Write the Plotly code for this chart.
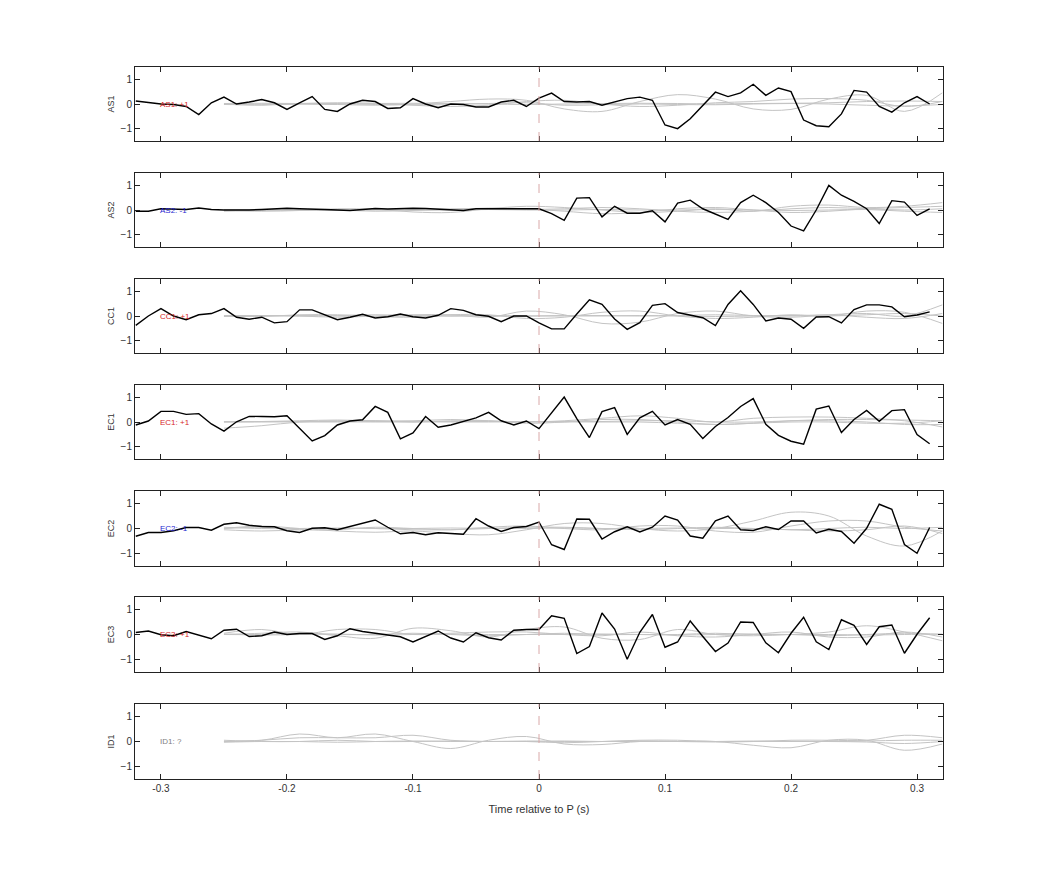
import plotly.graph_objects as go

t_black = [round(-0.32 + 0.01 * k, 2) for k in range(64)]
t_gray = [-0.25, -0.22, -0.19, -0.16, -0.13, -0.10, -0.07, -0.04, -0.01, 0.02,
          0.05, 0.08, 0.11, 0.14, 0.17, 0.20, 0.23, 0.26, 0.29, 0.32]

channels = ["AS1", "AS2", "CC1", "EC1", "EC2", "EC3", "ID1"]
labels = ["AS1: +1", "AS2: -1", "CC1: +1", "EC1: +1", "EC2: -1", "EC3: +1", "ID1: ?"]
label_colors = ["#d62728", "#1f1fd0", "#d62728", "#d62728", "#1f1fd0", "#d62728", "#808080"]

black_AS1 = [0.12, 0.05, 0.0, -0.02, -0.1, -0.43, 0.05, 0.28, 0.0, 0.08, 0.18, 0.05, -0.22, 0.05, 0.3, -0.22,
             -0.3, 0.0, 0.15, 0.1, -0.18, -0.15, 0.22, 0.0, -0.15, 0.0, -0.02, -0.12, -0.12, 0.08, 0.15, -0.1,
             0.24, 0.44, 0.1, 0.08, 0.1, -0.05, 0.1, 0.22, 0.28, 0.15, -0.85, -1.0, -0.6, -0.05, 0.48, 0.3,
             0.45, 0.8, 0.35, 0.65, 0.5, -0.65, -0.88, -0.92, -0.4, 0.55, 0.48, -0.1, -0.33, 0.05, 0.3, 0.0]
black_AS2 = [-0.05, -0.05, 0.05, 0.02, 0.02, 0.08, 0.02, 0.0, -0.01, 0.0, 0.02, 0.05, 0.07, 0.05, 0.05, 0.02,
             0.0, -0.02, 0.02, 0.06, 0.04, 0.06, 0.07, 0.06, 0.04, 0.02, -0.02, 0.05, 0.05, 0.08, 0.06, 0.05,
             0.05, -0.15, -0.42, 0.48, 0.5, -0.28, 0.15, -0.13, -0.13, -0.03, -0.48, 0.28, 0.4, 0.05, -0.15, -0.38,
             0.3, 0.6, 0.3, -0.1, -0.65, -0.85, 0.0, 1.0, 0.6, 0.35, 0.05, -0.55, 0.38, 0.32, -0.22, 0.05]
black_CC1 = [-0.38, 0.0, 0.3, 0.0, -0.15, 0.05, 0.1, 0.3, -0.05, -0.13, -0.05, -0.28, -0.23, 0.25, 0.25, 0.05,
             -0.15, -0.05, 0.07, -0.08, -0.03, 0.08, -0.03, -0.08, 0.03, 0.3, 0.23, 0.05, -0.01, -0.23, 0.0, 0.0,
             -0.28, -0.52, -0.52, 0.08, 0.66, 0.47, -0.12, -0.54, -0.27, 0.43, 0.5, 0.14, 0.04, -0.07, -0.39, 0.47,
             1.02, 0.47, -0.2, -0.08, -0.13, -0.5, -0.04, -0.03, -0.28, 0.26, 0.45, 0.45, 0.37, -0.03, 0.04, 0.17]
black_EC1 = [-0.12, 0.04, 0.43, 0.43, 0.31, 0.34, -0.08, -0.37, 0.01, 0.23, 0.22, 0.21, 0.25, -0.25, -0.77, -0.55,
             -0.12, 0.04, 0.09, 0.63, 0.39, -0.68, -0.44, 0.22, -0.21, -0.12, 0.04, 0.17, 0.39, 0.05, -0.12, 0.04,
             -0.27, 0.38, 1.01, 0.14, -0.63, 0.42, 0.58, -0.5, 0.17, 0.43, -0.12, 0.1, -0.09, -0.67, -0.18, 0.18,
             0.63, 0.95, -0.09, -0.54, -0.78, -0.9, 0.52, 0.65, -0.43, 0.1, 0.47, 0.03, 0.46, 0.5, -0.51, -0.88]
black_EC2 = [-0.31, -0.16, -0.16, -0.09, 0.04, 0.04, -0.07, 0.17, 0.23, 0.13, 0.08, 0.07, -0.09, -0.16, 0.01, 0.03,
             -0.05, 0.08, 0.22, 0.34, 0.05, -0.21, -0.16, -0.25, -0.17, -0.2, -0.23, 0.39, 0.1, -0.12, 0.04, 0.08,
             0.26, -0.65, -0.84, 0.38, 0.37, -0.42, -0.13, 0.07, -0.14, 0.05, 0.5, 0.34, -0.3, -0.39, 0.31, 0.5,
             -0.05, -0.08, 0.07, -0.04, 0.3, 0.3, -0.18, -0.03, -0.12, -0.59, 0.01, 0.97, 0.77, -0.64, -0.99, 0.04]
black_EC3 = [0.08, 0.14, -0.01, -0.05, 0.12, -0.01, -0.17, 0.17, 0.21, -0.08, -0.05, 0.1, 0.0, 0.04, 0.04, -0.2,
             -0.05, 0.23, 0.12, 0.05, -0.01, -0.09, -0.3, -0.07, 0.14, -0.14, -0.3, 0.07, -0.13, -0.22, 0.17, 0.2,
             0.2, 0.75, 0.65, -0.76, -0.48, 0.86, 0.22, -0.99, 0.09, 0.8, -0.51, -0.3, 0.54, -0.08, -0.68, -0.34,
             0.5, 0.48, -0.33, -0.73, 0.05, 0.69, -0.29, -0.6, 0.59, 0.37, -0.4, 0.31, 0.38, -0.75, 0.01, 0.67]
black_series = [black_AS1, black_AS2, black_CC1, black_EC1, black_EC2, black_EC3, None]

gray_AS1 = [
    [0.0, 0.0, 0.0, -0.02, -0.05, 0.0, 0.1, 0.2, 0.15, -0.2, -0.3, 0.1, 0.38, 0.2, -0.2, -0.22, 0.2, 0.35, -0.3, 0.45],
    [0.0, -0.05, 0.02, 0.05, 0.03, -0.05, -0.1, -0.05, 0.1, 0.15, 0.0, -0.1, -0.05, 0.05, 0.1, 0.2, 0.22, 0.15, -0.1, 0.1],
    [0.02, 0.03, 0.02, 0.0, 0.02, 0.03, 0.02, 0.0, -0.02, 0.0, 0.02, 0.03, 0.02, 0.0, 0.02, 0.03, 0.05, 0.1, 0.12, 0.1],
    [-0.02, -0.03, 0.0, 0.02, -0.02, -0.03, 0.0, 0.02, 0.05, -0.05, -0.03, 0.0, -0.02, -0.03, 0.0, 0.02, 0.0, -0.05, -0.08, -0.02]]
gray_AS2 = [
    [0.0, -0.05, -0.02, 0.05, 0.03, -0.08, -0.1, 0.05, 0.15, 0.1, 0.0, -0.1, -0.05, 0.05, -0.05, 0.15, 0.2, 0.1, 0.15, 0.3],
    [-0.05, -0.02, 0.02, 0.0, -0.05, -0.02, 0.02, 0.08, 0.05, -0.05, -0.15, -0.1, 0.05, 0.1, 0.0, -0.1, -0.05, 0.05, 0.1, 0.15],
    [0.0, 0.02, 0.0, -0.02, 0.0, 0.02, 0.05, 0.05, 0.02, 0.05, 0.1, 0.05, -0.05, -0.1, -0.05, 0.05, 0.1, 0.05, 0.0, 0.05],
    [0.02, 0.0, -0.02, 0.0, 0.02, 0.0, 0.0, 0.02, 0.0, 0.0, 0.02, 0.0, 0.0, 0.02, 0.0, -0.02, 0.0, 0.02, -0.05, -0.1]]
gray_CC1 = [
    [0.0, 0.02, 0.0, -0.05, 0.0, 0.05, 0.05, -0.05, 0.2, 0.05, -0.3, -0.25, 0.1, 0.2, 0.0, -0.05, 0.05, 0.1, 0.0, 0.45],
    [0.0, -0.02, 0.05, 0.05, -0.02, -0.05, 0.05, 0.05, -0.1, -0.05, 0.15, 0.2, 0.0, -0.1, -0.05, 0.05, 0.0, 0.2, 0.15, -0.3],
    [0.02, 0.02, 0.0, 0.02, 0.05, 0.02, 0.0, 0.0, 0.0, 0.02, 0.02, 0.0, 0.02, 0.05, 0.02, 0.0, 0.05, -0.05, -0.1, 0.1],
    [-0.02, 0.0, 0.02, 0.0, -0.02, 0.0, 0.0, 0.02, 0.0, 0.0, 0.0, 0.02, 0.0, -0.02, 0.0, 0.02, 0.0, 0.05, 0.1, 0.0]]
gray_EC1 = [
    [-0.25, -0.15, 0.0, 0.05, 0.05, 0.0, 0.05, 0.05, 0.0, 0.05, 0.15, 0.25, 0.15, 0.0, 0.15, 0.2, 0.2, 0.15, 0.05, -0.2],
    [0.0, 0.02, 0.05, 0.08, 0.05, 0.05, 0.1, 0.05, -0.05, 0.0, 0.1, 0.1, 0.0, -0.1, -0.05, 0.05, 0.05, 0.0, -0.1, -0.1],
    [0.0, 0.0, 0.02, 0.02, 0.0, 0.0, 0.02, 0.02, 0.0, 0.0, 0.02, 0.05, 0.05, 0.0, 0.0, 0.05, 0.1, 0.1, 0.08, 0.05],
    [0.02, 0.02, 0.0, 0.0, 0.02, 0.02, 0.0, 0.0, 0.02, 0.02, 0.0, 0.0, -0.05, -0.1, -0.05, 0.0, 0.0, -0.05, -0.05, 0.05]]
gray_EC2 = [
    [0.0, 0.1, 0.0, -0.1, -0.15, -0.1, -0.2, -0.25, -0.05, 0.2, 0.2, 0.0, -0.1, 0.0, 0.3, 0.65, 0.5, -0.3, -0.7, -0.1],
    [0.0, 0.05, -0.05, -0.05, 0.05, 0.0, -0.05, 0.05, 0.1, 0.0, -0.05, 0.1, 0.1, -0.1, -0.15, 0.1, 0.3, 0.3, 0.05, -0.1],
    [-0.05, -0.1, -0.05, 0.0, 0.0, -0.05, -0.05, 0.0, 0.05, 0.05, 0.0, -0.05, 0.0, 0.05, 0.0, -0.05, 0.0, 0.05, 0.0, 0.05],
    [0.05, 0.0, 0.0, 0.02, 0.0, 0.0, 0.02, 0.0, 0.0, 0.02, 0.0, 0.0, 0.02, 0.0, 0.0, -0.05, -0.1, -0.05, 0.1, -0.2]]
gray_EC3 = [
    [0.0, 0.05, 0.1, -0.05, -0.15, 0.25, 0.15, -0.1, 0.2, 0.3, -0.15, -0.2, 0.2, 0.0, -0.05, 0.0, 0.1, 0.35, 0.1, -0.25],
    [0.05, 0.2, 0.0, 0.2, 0.2, 0.0, 0.05, 0.1, 0.1, 0.0, -0.05, 0.1, -0.05, -0.1, 0.0, 0.1, -0.1, -0.1, 0.1, -0.1],
    [0.0, 0.0, 0.05, 0.0, 0.0, 0.05, 0.0, -0.05, 0.0, 0.05, 0.0, 0.0, 0.0, 0.05, 0.0, 0.0, -0.05, 0.0, 0.05, 0.0],
    [0.02, -0.02, 0.0, 0.02, -0.02, 0.0, 0.02, 0.0, 0.0, 0.0, 0.02, 0.0, -0.02, 0.0, 0.02, 0.0, 0.0, -0.02, 0.0, 0.02]]
gray_ID1 = [
    [0.0, 0.05, 0.3, 0.15, 0.3, 0.0, -0.28, 0.05, 0.2, -0.1, -0.12, 0.0, 0.0, 0.0, -0.15, -0.25, 0.05, 0.05, -0.35, -0.1],
    [0.0, 0.05, 0.15, 0.15, 0.15, 0.25, 0.05, 0.0, 0.0, -0.05, 0.0, 0.05, 0.05, 0.0, 0.0, 0.05, 0.05, 0.05, 0.25, 0.15],
    [0.05, 0.0, 0.0, 0.05, 0.0, 0.0, 0.02, 0.0, 0.02, 0.0, 0.0, 0.02, 0.0, 0.0, 0.02, 0.0, 0.0, 0.02, 0.05, 0.05],
    [-0.03, 0.0, 0.0, -0.03, 0.0, 0.02, 0.0, 0.0, 0.0, 0.02, 0.0, 0.0, 0.0, -0.02, 0.0, 0.0, 0.0, -0.02, -0.08, 0.0]]
gray_series = [gray_AS1, gray_AS2, gray_CC1, gray_EC1, gray_EC2, gray_EC3, gray_ID1]

x_ticks = [-0.3, -0.2, -0.1, 0, 0.1, 0.2, 0.3]
y_ticks = [-1, 0, 1]

panel_px = [(67, 141), (173, 247), (279, 353), (385, 459), (491, 566), (597, 672), (704, 779)]
OFF = 8
H, W = 875, 1042
top_m = 67 - OFF
bot_m = H + OFF - 780
left_m = 135 - OFF
right_m = W + OFF - 943
plot_h = H - top_m - bot_m
plot_bot = 780

fig = go.Figure()
font = "Liberation Sans, Arial, sans-serif"
layout = dict(width=W, height=H, paper_bgcolor="white", plot_bgcolor="white",
              margin=dict(l=left_m, r=right_m, t=top_m, b=bot_m), showlegend=False,
              font=dict(family=font, size=10, color="#333"))
shapes, annotations = [], []
for i, ch in enumerate(channels):
    n = i + 1
    xa = "x" if n == 1 else f"x{n}"
    ya = "y" if n == 1 else f"y{n}"
    for g in gray_series[i]:
        fig.add_trace(go.Scatter(x=t_gray, y=g, mode="lines", line=dict(color="#c4c4c4", width=1, shape="spline"),
                                 xaxis=xa, yaxis=ya, hoverinfo="skip"))
    if black_series[i] is not None:
        fig.add_trace(go.Scatter(x=t_black, y=black_series[i], mode="lines", line=dict(color="black", width=1.4),
                                 xaxis=xa, yaxis=ya))
    top, bot = panel_px[i]
    dom = [(plot_bot - bot) / plot_h, (plot_bot - top) / plot_h]
    last = (n == 7)
    layout[f"xaxis{'' if n == 1 else n}"] = dict(
        domain=[0, 1], anchor=ya, range=[-0.3206, 0.3206], tickvals=x_ticks,
        ticktext=[str(v) if v != 0 else "0" for v in x_ticks], showticklabels=last,
        ticks="inside", ticklen=5, tickcolor="#222", showline=True, linecolor="#222", linewidth=1,
        mirror="ticks", showgrid=False, zeroline=False, tickfont=dict(size=10),
        title=dict(text="Time relative to P (s)", font=dict(size=11), standoff=12) if last else None,
        **({} if n == 1 else {"matches": "x"}))
    layout[f"yaxis{'' if n == 1 else n}"] = dict(
        domain=dom, anchor=xa, range=[-1.5, 1.5], tickvals=y_ticks, ticks="inside", ticklen=5,
        tickcolor="#222", showline=True, linecolor="#222", linewidth=1, mirror="ticks",
        showgrid=False, zeroline=False, tickfont=dict(size=10),
        title=dict(text=ch, font=dict(size=9), standoff=4))
    shapes.append(dict(type="line", xref=xa, yref=f"{ya} domain", x0=0, x1=0, y0=0, y1=1,
                       line=dict(color="#d9a8a8", width=1, dash="dash")))
    annotations.append(dict(xref=xa, yref=ya, x=-0.3025, y=0, text=labels[i], showarrow=False,
                            xanchor="left", yanchor="middle", font=dict(size=8, color=label_colors[i])))
layout["shapes"] = shapes
layout["annotations"] = annotations
fig.update_layout(**layout)
fig.write_html("out.html")
